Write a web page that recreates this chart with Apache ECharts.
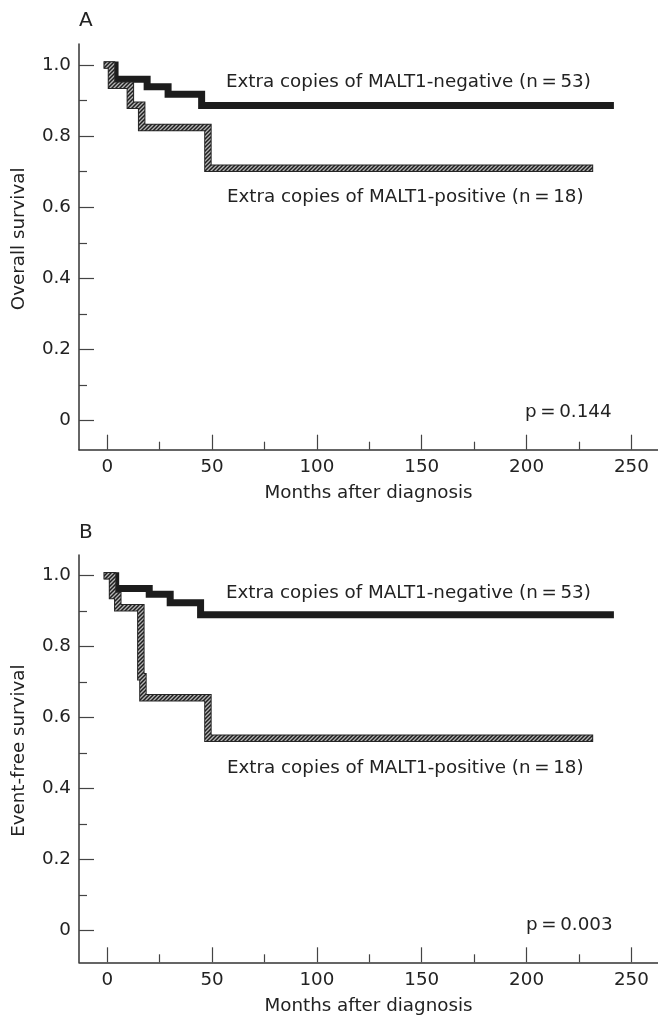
<!DOCTYPE html>
<html><head><meta charset="utf-8">
<script src="https://cdn.jsdelivr.net/npm/echarts@6/dist/echarts.min.js"></script>
<style>html,body{margin:0;padding:0;background:#fff}#c{width:658px;height:1017px}</style>
</head><body><div id="c"></div>
<script>
// ---- data ----
const xTicks = [0, 50, 100, 150, 200, 250];
const xMinorTicks = [25, 75, 125, 175, 225];
const yTicks = [0, 0.2, 0.4, 0.6, 0.8, 1.0];
const yMinorTicks = [0.1, 0.3, 0.5, 0.7, 0.9];

// Panel A: overall survival
const osNegMonths = [0, 3.7, 19, 29, 45, 240];
const osNegSurv   = [1.0, 0.96, 0.939, 0.918, 0.886, 0.886];
const osPosMonths = [0, 2, 11, 16.4, 48, 230];
const osPosSurv   = [1.0, 0.943, 0.887, 0.824, 0.71, 0.71];
// Panel B: event-free survival
const efsNegMonths = [0, 4, 20, 30, 44.5, 240];
const efsNegSurv   = [1.0, 0.964, 0.948, 0.924, 0.89, 0.89];
const efsPosMonths = [0, 2.5, 5, 16, 17, 48, 230];
const efsPosSurv   = [1.0, 0.944, 0.91, 0.715, 0.656, 0.542, 0.542];

const labelNeg = 'Extra copies of MALT1-negative (n\u2009=\u200953)';
const labelPos = 'Extra copies of MALT1-positive (n\u2009=\u200918)';
const pA = 'p\u2009=\u20090.144';
const pB = 'p\u2009=\u20090.003';

// ---- styling ----
const FONT = '"DejaVu Sans", sans-serif';
const FS = 18.3;
const TXT = '#222';

function hatch() {
  const c = document.createElement('canvas'); c.width = 4; c.height = 4;
  const g = c.getContext('2d');
  g.fillStyle = '#b4b4b4'; g.fillRect(0, 0, 4, 4);
  g.strokeStyle = '#1e1e1e'; g.lineWidth = 1.5;
  g.beginPath();
  g.moveTo(0, 4); g.lineTo(4, 0);
  g.moveTo(-1, 1); g.lineTo(1, -1);
  g.moveTo(3, 5); g.lineTo(5, 3);
  g.stroke();
  return c;
}
const pattern = { image: hatch(), repeat: 'repeat' };

function zip(a, b) { return a.map((v, i) => [v, b[i]]); }

const X_MIN = -13.5, X_MAX = 262.7;
function xAxes(gridIndex) {
  return [{
    type: 'value', gridIndex, min: X_MIN, max: X_MAX, position: 'bottom',
    axisLine: { show: true, onZero: false, lineStyle: { color: '#333', width: 1.5 } },
    axisTick: { show: true, inside: true, length: 15, customValues: xTicks, lineStyle: { color: '#444', width: 1.2 } },
    axisLabel: { show: true, customValues: xTicks, margin: 9, color: TXT, fontSize: FS, fontFamily: FONT },
    splitLine: { show: false },
    name: 'Months after diagnosis', nameLocation: 'middle', nameGap: 35,
    nameTextStyle: { color: TXT, fontSize: FS, fontFamily: FONT }
  }, {
    type: 'value', gridIndex, min: X_MIN, max: X_MAX, position: 'bottom',
    axisLine: { show: false, onZero: false },
    axisTick: { show: true, inside: true, length: 8, customValues: xMinorTicks, lineStyle: { color: '#444', width: 1.2 } },
    axisLabel: { show: false }, splitLine: { show: false }
  }];
}
function yAxes(gridIndex, min, max, name) {
  return [{
    type: 'value', gridIndex, min, max, position: 'left',
    axisLine: { show: true, onZero: false, lineStyle: { color: '#333', width: 1.5 } },
    axisTick: { show: true, inside: true, length: 15, customValues: yTicks, lineStyle: { color: '#444', width: 1.2 } },
    axisLabel: { show: true, customValues: yTicks, margin: 8, color: TXT, fontSize: FS, fontFamily: FONT,
      formatter: v => (Math.abs(v) < 1e-9 ? '0' : v.toFixed(1)) },
    splitLine: { show: false },
    name, nameLocation: 'middle', nameGap: 51,
    nameTextStyle: { color: TXT, fontSize: FS, fontFamily: FONT, padding: [0, 0, 0, 16] }
  }, {
    type: 'value', gridIndex, min, max, position: 'left',
    axisLine: { show: false, onZero: false },
    axisTick: { show: true, inside: true, length: 8, customValues: yMinorTicks, lineStyle: { color: '#444', width: 1.2 } },
    axisLabel: { show: false }, splitLine: { show: false }
  }];
}

function blackSeries(xi, yi, data) {
  return { type: 'line', xAxisIndex: xi, yAxisIndex: yi, data, step: 'end', showSymbol: false, silent: true,
    z: 2, lineStyle: { color: '#1c1c1c', width: 7, cap: 'square', join: 'miter' } };
}
function grayOutline(xi, yi, data) {
  return { type: 'line', xAxisIndex: xi, yAxisIndex: yi, data, step: 'end', showSymbol: false, silent: true,
    z: 3, lineStyle: { color: '#262626', width: 7.5, cap: 'square', join: 'miter' } };
}
function grayFill(xi, yi, data) {
  return { type: 'line', xAxisIndex: xi, yAxisIndex: yi, data, step: 'end', showSymbol: false, silent: true,
    z: 4, lineStyle: { color: pattern, width: 5.5, cap: 'square', join: 'miter' } };
}

function txt(x, y, text, size) {
  return { type: 'text', x, y, silent: true,
    style: { text, fill: TXT, font: (size || FS) + 'px ' + FONT, verticalAlign: 'middle', align: 'left' } };
}

const chart = echarts.init(document.getElementById('c'), null, { renderer: 'canvas' });
chart.setOption({
  backgroundColor: '#fff',
  animation: false,
  grid: [
    { left: 79, top: 44, width: 579, height: 405.7 },
    { left: 79, top: 555, width: 579, height: 407.3 }
  ],
  xAxis: [...xAxes(0), ...xAxes(1)],
  yAxis: [...yAxes(0, -0.0815, 1.059, 'Overall survival'), ...yAxes(1, -0.089, 1.0583, 'Event-free survival')],
  series: [
    blackSeries(0, 0, zip(osNegMonths, osNegSurv)),
    grayOutline(0, 0, zip(osPosMonths, osPosSurv)),
    grayFill(0, 0, zip(osPosMonths, osPosSurv)),
    blackSeries(2, 2, zip(efsNegMonths, efsNegSurv)),
    grayOutline(2, 2, zip(efsPosMonths, efsPosSurv)),
    grayFill(2, 2, zip(efsPosMonths, efsPosSurv))
  ],
  graphic: [
    txt(79, 21, 'A', 20),
    txt(79, 533, 'B', 20),
    txt(226, 82, labelNeg),
    txt(227, 197, labelPos),
    txt(525, 412, pA),
    txt(226, 593, labelNeg),
    txt(227, 768, labelPos),
    txt(526, 925, pB)
  ]
});
</script>
</body></html>
